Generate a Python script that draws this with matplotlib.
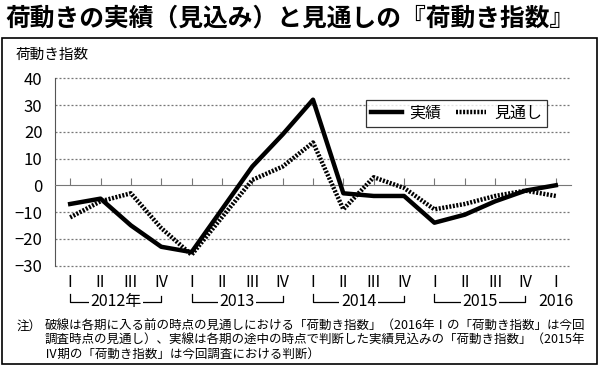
"""
荷動き指数: 実績（見込み）と見通し
"""
import matplotlib.pyplot as plt
import matplotlib.transforms as mtransforms
from matplotlib.patches import Rectangle

plt.rcParams['font.family'] = ['Noto Sans CJK JP', 'DejaVu Sans']

W, H = 600, 366

quarters = ['I', 'II', 'III', 'IV'] * 4 + ['I']
years = ['2012年', '2013', '2014', '2015']
last_year = '2016'
actual = [-7, -5, -15, -23, -25, -9, 7, 19, 32, -3, -4, -4, -14, -11, -6, -2, 0]
outlook = [-12, -6, -3, -16, -26, -12, 2, 7, 16, -9, 3, -1, -9, -7, -4, -2, -4]
y_ticks = [-30, -20, -10, 0, 10, 20, 30, 40]

title = '荷動きの実績（見込み）と見通しの『荷動き指数』'
y_label = '荷動き指数'
note_lines = [
    '破線は各期に入る前の時点の見通しにおける「荷動き指数」（2016年Ⅰの「荷動き指数」は今回',
    '調査時点の見通し）、実線は各期の途中の時点で判断した実績見込みの「荷動き指数」（2015年',
    'Ⅳ期の「荷動き指数」は今回調査における判断）',
]


def px(x, y):
    # pixel position (from top left) -> figure fraction
    return x / W, 1 - y / H


fig = plt.figure(figsize=(W / 100, H / 100), dpi=100)
ax = fig.add_axes([55 / W, 1 - 265.5 / H, 516 / W, 187.2 / H])

x = list(range(len(actual)))
ax.plot(x, actual, color='black', lw=3.2, label='実績', zorder=4)
ax.plot(x, outlook, color='black', lw=3.2, linestyle=(0, (0.45, 0.35)),
        label='見通し', zorder=3)

ax.set_xlim(-0.5, len(x) - 0.5)
ax.set_ylim(y_ticks[0], y_ticks[-1])

# dotted grid, solid zero line carrying the tick marks
for v in y_ticks:
    if v != 0:
        ax.axhline(v, color='#777777', lw=0.9, linestyle=(0, (1.6, 1.6)),
                   clip_on=False, zorder=1)
for side in ['top', 'right']:
    ax.spines[side].set_visible(False)
ax.spines['left'].set_color('#555555')
ax.spines['bottom'].set_position(('data', 0))
ax.spines['bottom'].set_color('#777777')
ax.set_xticks(x)
ax.tick_params(axis='x', direction='in', length=5, color='#777777',
               labelbottom=False)
ax.set_yticks(y_ticks)
ax.tick_params(axis='y', length=0, pad=9, labelsize=12)

# quarter labels and year brackets under the plot
trans = mtransforms.blended_transform_factory(ax.transData, ax.transAxes)
for i, q in enumerate(quarters):
    ax.text(i, -0.093, q, transform=trans, ha='center', va='center',
            fontsize=11.5)
for g, yr in enumerate(years):
    i0, i3 = 4 * g, 4 * g + 3
    ax.plot([i0, i0, i3, i3], [-0.152, -0.195, -0.195, -0.163],
            transform=trans, color='black', lw=0.9, clip_on=False)
    ax.text((i0 + i3) / 2, -0.19, yr, transform=trans, ha='center',
            va='center', fontsize=11.5,
            bbox=dict(facecolor='white', edgecolor='none', pad=1))
ax.text(len(x) - 1, -0.19, last_year, transform=trans, ha='center',
        va='center', fontsize=11.5)

leg = ax.legend(loc='upper right', bbox_to_anchor=(0.969, 0.927), ncol=2,
                fontsize=11.5, frameon=True, fancybox=False, handlelength=1.9,
                columnspacing=0.9, handletextpad=0.5, borderpad=0.3)
leg.get_frame().set_edgecolor('black')
leg.get_frame().set_linewidth(0.9)

fig.text(*px(5, 19), title, fontsize=17.8, fontweight='bold', va='center')
fig.text(*px(16, 55), y_label, fontsize=10.5, va='center')
fig.text(*px(17, 326), '注）', fontsize=9, va='center')
for k, line in enumerate(note_lines):
    fig.text(*px(45, 326 + 14 * k), line, fontsize=9, va='center')

fig.patches.append(Rectangle(px(2, 364), 595 / W, 326 / H, fill=False,
                             edgecolor='black', lw=1.2,
                             transform=fig.transFigure, figure=fig))

fig.savefig('out.png', dpi=100)
